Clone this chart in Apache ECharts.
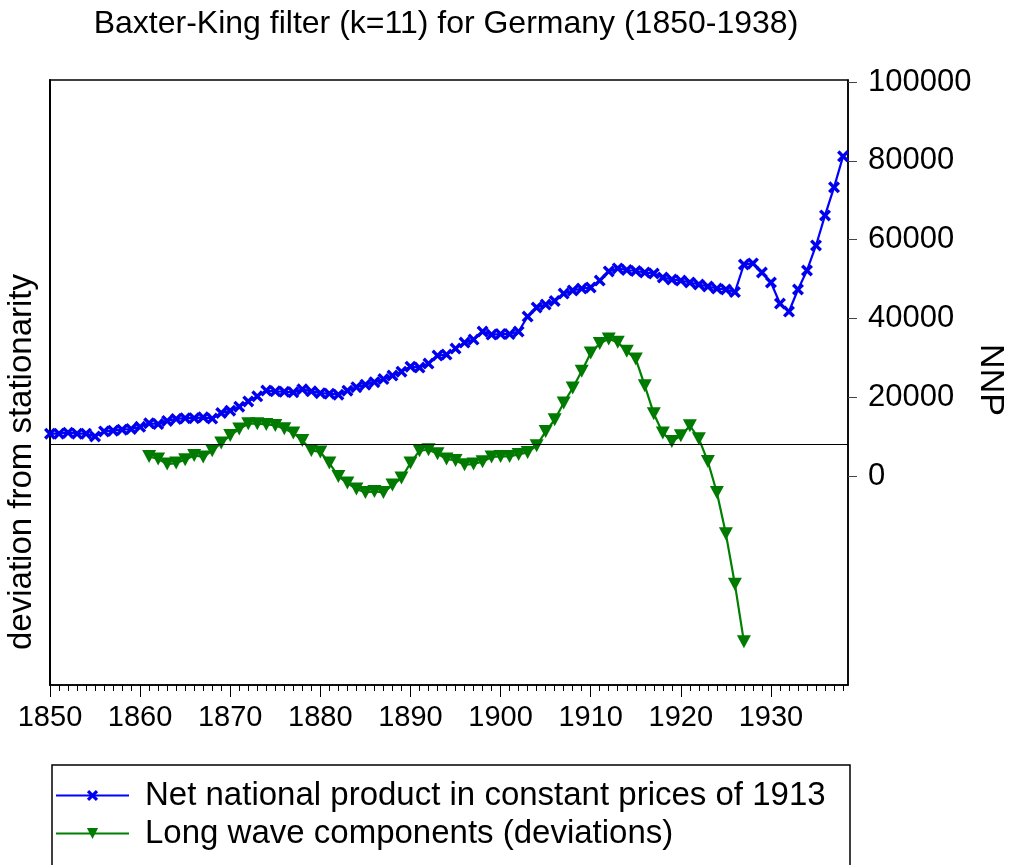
<!DOCTYPE html>
<html>
<head>
<meta charset="utf-8">
<script src="https://cdn.jsdelivr.net/npm/echarts@6/dist/echarts.min.js"></script>
<style>html,body{margin:0;padding:0;background:#fff}#c{width:1009px;height:865px}</style>
</head>
<body>
<div id="c"></div>
<script>
var years = [1850,1851,1852,1853,1854,1855,1856,1857,1858,1859,
1860,1861,1862,1863,1864,1865,1866,1867,1868,1869,
1870,1871,1872,1873,1874,1875,1876,1877,1878,1879,
1880,1881,1882,1883,1884,1885,1886,1887,1888,1889,
1890,1891,1892,1893,1894,1895,1896,1897,1898,1899,
1900,1901,1902,1903,1904,1905,1906,1907,1908,1909,
1910,1911,1912,1913,1914,1915,1916,1917,1918,1919,
1920,1921,1922,1923,1924,1925,1926,1927,1928,1929,
1930,1931,1932,1933,1934,1935,1936,1937,1938];

var nnp = [10750,10750,11000,10750,10750,10060,11330,11510,11760,11940,
12500,13400,13200,14000,14500,14700,14700,14900,14600,16000,
16600,17600,18950,20230,21700,21500,21400,21240,22000,21500,
21040,20910,20660,21670,22560,23200,23830,24600,25490,26500,
27770,27520,28540,30570,30820,32350,33870,34630,36660,35900,
36030,36030,36670,40480,42770,43530,44420,46320,47090,47590,
47850,49620,51930,52690,52290,52040,51660,51400,50390,49880,
49620,49120,48610,48100,47590,47340,46700,53690,53950,51660,
49120,43780,41750,47340,52170,58520,66140,73260,81140];

var longWave = [null,null,null,null,null,null,null,null,null,null,
null,-3150,-3810,-5080,-4830,-3990,-2900,-3300,-1700,250,
2190,3810,5160,5160,4980,4730,3890,2800,910,-1630,
-2030,-4830,-8230,-9910,-11430,-12300,-12040,-12300,-10420,-8640,
-4830,-1700,-1450,-2460,-3810,-4170,-5260,-5080,-4500,-3300,
-3150,-3150,-2640,-2130,-430,3200,6170,10420,14230,18450,
23120,25490,26680,25820,23530,21600,14810,7700,2800,660,
2110,4650,1350,-4420,-12300,-22790,-35570,-50160,null,null,
null,null,null,null,null,null,null,null,null];

var xTickLabels = [1850,1860,1870,1880,1890,1900,1910,1920,1930];
var yTickLabels = [0,20000,40000,60000,80000,100000];

var FONT = 'Liberation Sans, Arial, sans-serif';
var chart = echarts.init(document.getElementById('c'), null, {renderer:'canvas'});

var crossPath = 'path://M0,2L2,0L5,3L8,0L10,2L7,5L10,8L8,10L5,7L2,10L0,8L3,5Z';
var triPath = 'path://M0,0L10,0L5,9Z';
function plain(v){ return String(v); }

chart.setOption({
  animation:false,
  backgroundColor:'#fff',
  textStyle:{fontFamily:FONT},
  grid:{left:50,right:161,top:80,bottom:180,show:true,borderColor:'#000',borderWidth:1.5,backgroundColor:'transparent'},
  xAxis:[{
    type:'value',min:1850,max:1938.55,position:'bottom',
    axisLine:{show:true,onZero:false,lineStyle:{color:'#000',width:1.5}},
    axisTick:{show:true,customValues:years,length:6,lineStyle:{color:'#000',width:1}},
    axisLabel:{show:false},
    splitLine:{show:false}
  },{
    type:'value',min:1850,max:1938.55,position:'bottom',
    axisLine:{show:false,onZero:false},
    axisTick:{show:true,customValues:xTickLabels,length:12,lineStyle:{color:'#000',width:1}},
    axisLabel:{show:true,customValues:xTickLabels,formatter:plain,fontSize:29,color:'#000',margin:18,fontFamily:FONT},
    splitLine:{show:false}
  }],
  yAxis:[{
    type:'value',min:-61153,max:92378,position:'left',
    axisLine:{show:true,onZero:false,lineStyle:{color:'#000',width:2}},
    axisTick:{show:false},axisLabel:{show:false},splitLine:{show:false}
  },{
    type:'value',min:-53023,max:100508,position:'right',
    axisLine:{show:true,onZero:false,lineStyle:{color:'#000',width:1.5}},
    axisTick:{show:true,customValues:yTickLabels,length:9,lineStyle:{color:'#444',width:1}},
    axisLabel:{show:true,customValues:yTickLabels,formatter:plain,fontSize:31,color:'#000',margin:20,fontFamily:FONT},
    splitLine:{show:false}
  }],
  legend:{
    orient:'vertical',left:55,top:779,padding:0,itemWidth:73,itemHeight:14,itemGap:5,
    textStyle:{fontSize:33,color:'#000',fontFamily:FONT,lineHeight:33,padding:[0,0,0,11]},
    data:['Net national product in constant prices of 1913','Long wave components (deviations)']
  },
  graphic:[
    {type:'text',x:446,y:24,style:{text:'Baxter-King filter (k=11) for Germany (1850-1938)',font:'32px '+FONT,fill:'#000',textAlign:'center',textVerticalAlign:'middle'}},
    {type:'text',x:22,y:462,rotation:Math.PI/2,style:{text:'deviation from stationarity',font:'33px '+FONT,fill:'#000',textAlign:'center',textVerticalAlign:'middle'}},
    {type:'text',x:990,y:380,rotation:-Math.PI/2,style:{text:'NNP',font:'34px '+FONT,fill:'#000',textAlign:'center',textVerticalAlign:'middle'}},
    {type:'rect',shape:{x:52,y:765,width:798,height:115},style:{fill:'none',stroke:'#000',lineWidth:1.5},z:-1}
  ],
  series:[{
    name:'Net national product in constant prices of 1913',
    type:'line',xAxisIndex:0,yAxisIndex:1,
    data:years.map(function(y,i){return [y,nnp[i]];}),
    symbol:crossPath,symbolSize:12,showAllSymbol:true,
    lineStyle:{color:'#0000ff',width:2.2},
    itemStyle:{color:'#0000ee'},
    z:3
  },{
    name:'Long wave components (deviations)',
    type:'line',xAxisIndex:0,yAxisIndex:0,
    data:years.map(function(y,i){return [y,longWave[i]];}),
    symbol:triPath,symbolSize:[14,13],showAllSymbol:true,connectNulls:false,
    lineStyle:{color:'#008000',width:2.2},
    itemStyle:{color:'#007a00'},
    markLine:{silent:true,symbol:'none',label:{show:false},lineStyle:{color:'#000',width:1,type:'solid'},data:[{yAxis:0}]},
    z:2
  }]
});
</script>
</body>
</html>
